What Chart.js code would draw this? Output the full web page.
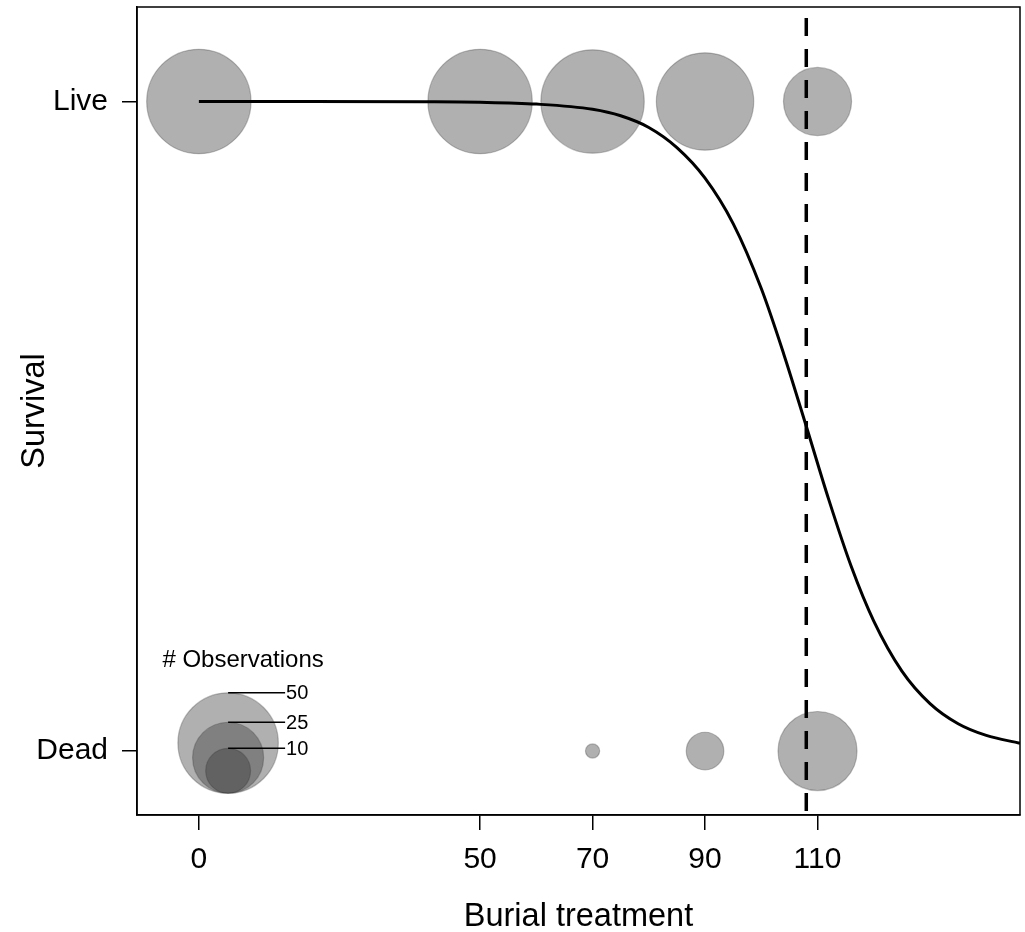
<!DOCTYPE html>
<html>
<head>
<meta charset="utf-8">
<script src="https://cdn.jsdelivr.net/npm/chart.js@4"></script>
<style>
  body { margin: 0; background: #fff; }
  canvas { display: block; }
</style>
</head>
<body>
<canvas id="grafica" width="1025" height="932"></canvas>
<script>
// datos
const treatments = [0, 50, 70, 90, 110];
const liveCounts = [54, 54, 53, 47, 23];
const deadCounts = [0, 0, 1, 7, 31];

const xTicks = [0, 50, 70, 90, 110];
const yTicks = [0, 1];
const yTickLabels = ["Dead", "Live"];

// curva ajustada (leida punto a punto)
const curveX = [0, 20, 40, 50, 60, 70, 75, 80, 85, 90, 95, 100, 104, 108, 112, 116, 120, 125, 130, 135, 140, 146];
const curveY = [1.000, 1.000, 0.9996, 0.9988, 0.996, 0.988, 0.978, 0.960, 0.929, 0.882, 0.812, 0.712, 0.611, 0.50, 0.387, 0.284, 0.200, 0.123, 0.073, 0.042, 0.024, 0.012];

const ld50 = 108;
const legendSizes = [50, 25, 10];

const xMin = -11, xMax = 146;
const yMin = -0.0985, yMax = 1.1455;

const rScale = 7.1;
const fillCol = "rgba(51, 51, 51, 0.39)";
const edgeCol = "rgba(51, 51, 51, 0.3)";

function bubbles(counts, yVal) {
    const out = [];
    counts.forEach((n, i) => {
        if (n > 0) out.push({ x: treatments[i], y: yVal, r: rScale * Math.sqrt(n) });
    });
    return out;
}

const fontFam = "'Liberation Sans', Arial, Helvetica, sans-serif";
Chart.defaults.font.family = fontFam;
Chart.defaults.color = "#000";

// caja del grafico + leyenda de tamaños
const extras = {
    id: "extras",
    beforeDatasetsDraw(chart) {
        const { ctx, chartArea: a } = chart;
        ctx.save();
        ctx.strokeStyle = "#000";
        ctx.lineWidth = 1.5;
        ctx.strokeRect(a.left, a.top, a.right - a.left, a.bottom - a.top);
        ctx.restore();
    },
    afterDatasetsDraw(chart) {
        const { ctx, scales } = chart;
        const cx = scales.x.getPixelForValue(5.2);
        const bottom = scales.y.getPixelForValue(-0.065);
        ctx.save();
        legendSizes.forEach(n => {
            const r = rScale * Math.sqrt(n);
            ctx.beginPath();
            ctx.arc(cx, bottom - r, r, 0, Math.PI * 2);
            ctx.fillStyle = fillCol;
            ctx.fill();
            ctx.strokeStyle = edgeCol;
            ctx.lineWidth = 1.2;
            ctx.stroke();
        });
        ctx.strokeStyle = "#000";
        ctx.lineWidth = 1.5;
        ctx.fillStyle = "#000";
        ctx.font = "20px " + fontFam;
        ctx.textAlign = "left";
        ctx.textBaseline = "middle";
        legendSizes.forEach(n => {
            const top = bottom - 2 * rScale * Math.sqrt(n);
            ctx.beginPath();
            ctx.moveTo(cx, top);
            ctx.lineTo(cx + 57, top);
            ctx.stroke();
            ctx.fillText(String(n), cx + 58, top + 1);
        });
        const top50 = bottom - 2 * rScale * Math.sqrt(legendSizes[0]);
        ctx.font = "24px " + fontFam;
        ctx.textAlign = "center";
        ctx.fillText("# Observations", cx + 15, top50 - 32);
        ctx.restore();
    }
};

new Chart(document.getElementById("grafica"), {
    type: "bubble",
    data: {
        datasets: [
            {
                type: "line",
                label: "LD50",
                data: [{ x: ld50, y: yMax }, { x: ld50, y: yMin }],
                borderColor: "#000",
                borderWidth: 3.5,
                borderDash: [18, 13],
                borderDashOffset: 20,
                pointRadius: 0,
                fill: false,
                order: 0
            },
            {
                type: "line",
                label: "Modelo",
                data: curveX.map((x, i) => ({ x: x, y: curveY[i] })),
                borderColor: "#000",
                borderWidth: 3,
                pointRadius: 0,
                cubicInterpolationMode: "monotone",
                fill: false,
                order: 1
            },
            {
                label: "Live",
                data: bubbles(liveCounts, 1),
                backgroundColor: fillCol,
                borderColor: edgeCol,
                borderWidth: 1.2,
                order: 2
            },
            {
                label: "Dead",
                data: bubbles(deadCounts, 0),
                backgroundColor: fillCol,
                borderColor: edgeCol,
                borderWidth: 1.2,
                order: 2
            }
        ]
    },
    options: {
        responsive: false,
        animation: false,
        events: [],
        layout: { autoPadding: false, padding: { top: 7, right: 5, left: 0, bottom: 0 } },
        plugins: {
            legend: { display: false },
            tooltip: { enabled: false }
        },
        scales: {
            x: {
                type: "linear",
                min: xMin,
                max: xMax,
                afterBuildTicks: axis => { axis.ticks = xTicks.map(v => ({ value: v })); },
                afterFit: axis => {
                    axis.height = 117;
                    axis.paddingLeft = 0;
                    axis.paddingRight = 0;
                },
                ticks: {
                    font: { size: 30 },
                    padding: 12,
                    color: "#000",
                    callback: v => String(v)
                },
                grid: {
                    display: true,
                    drawOnChartArea: false,
                    drawTicks: true,
                    tickLength: 15,
                    color: "#000",
                    lineWidth: 1.5
                },
                border: { display: true, color: "#000", width: 1.5 },
                title: {
                    display: true,
                    text: "Burial treatment",
                    color: "#000",
                    font: { size: 32.5, lineHeight: 0.9 },
                    padding: 0
                }
            },
            y: {
                type: "linear",
                min: yMin,
                max: yMax,
                afterBuildTicks: axis => { axis.ticks = yTicks.map(v => ({ value: v })); },
                afterFit: axis => {
                    axis.width = 137;
                    axis.paddingTop = 0;
                    axis.paddingBottom = 0;
                },
                ticks: {
                    font: { size: 30 },
                    padding: 14,
                    color: "#000",
                    callback: v => yTickLabels[yTicks.indexOf(v)]
                },
                grid: {
                    display: true,
                    drawOnChartArea: false,
                    drawTicks: true,
                    tickLength: 15,
                    color: "#000",
                    lineWidth: 1.5
                },
                border: { display: true, color: "#000", width: 1.5 },
                title: {
                    display: true,
                    text: "Survival",
                    color: "#000",
                    font: { size: 32.5, lineHeight: 0.9 },
                    padding: { top: 20.5, bottom: 0 }
                }
            }
        }
    },
    plugins: [extras]
});
</script>
</body>
</html>
